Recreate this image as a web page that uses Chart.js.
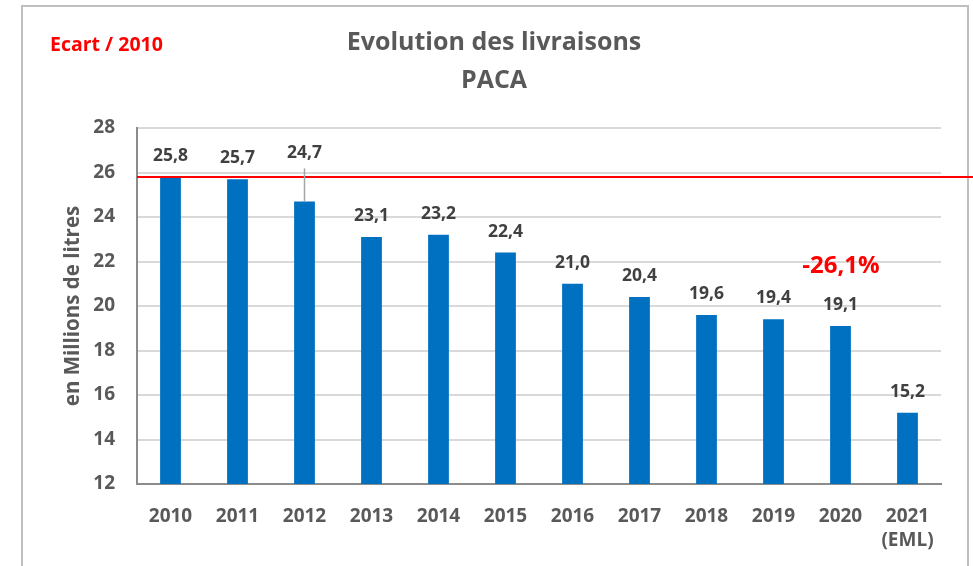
<!DOCTYPE html>
<html>
<head>
<meta charset="utf-8">
<script src="https://cdn.jsdelivr.net/npm/chart.js@4.4.0/dist/chart.umd.min.js"></script>
<style>
    html, body { margin: 0; padding: 0; background: #fff; }
    #wrap { position: relative; width: 973px; height: 566px; }
</style>
</head>
<body>
<div id="wrap"><canvas id="chart"></canvas></div>
<script>
// data
const years = ['2010', '2011', '2012', '2013', '2014', '2015', '2016', '2017', '2018', '2019', '2020', ['2021', '(EML)']];
const deliveries = [25.8, 25.7, 24.7, 23.1, 23.2, 22.4, 21.0, 20.4, 19.6, 19.4, 19.1, 15.2];
const yMin = 12;
const yMax = 28;
const yStep = 2;
const referenceValue = 25.8;   // 2010 level, red line
const gapText = '-26,1%';
const titleLines = ['Evolution des livraisons', 'PACA'];
const cornerNote = 'Ecart / 2010';
const yTitle = 'en Millions de litres';

const FONT = '"Open Sans", Lato, sans-serif';
const GREY = '#595959';

const decorPlugin = {
    id: 'decor',
    beforeDraw(chart) {
        const ctx = chart.ctx;
        ctx.save();
        // outer frame
        ctx.strokeStyle = '#bfbfbf';
        ctx.lineWidth = 2;
        ctx.strokeRect(22, 6, 946, 640);
        // titles
        ctx.fillStyle = GREY;
        ctx.font = 'bold 25px ' + FONT;
        ctx.textAlign = 'center';
        ctx.textBaseline = 'middle';
        ctx.fillText(titleLines[0], 494, 43);
        ctx.fillText(titleLines[1], 494, 81);
        // corner note
        ctx.fillStyle = '#ff0000';
        ctx.font = 'bold 19.5px ' + FONT;
        ctx.textAlign = 'left';
        ctx.fillText(cornerNote, 50, 45);
        ctx.restore();
    },
    afterDatasetsDraw(chart) {
        const ctx = chart.ctx;
        const y = chart.scales.y;
        const area = chart.chartArea;
        ctx.save();
        // reference line at 2010 level
        const ry = y.getPixelForValue(referenceValue);
        ctx.strokeStyle = '#ff0000';
        ctx.lineWidth = 2;
        ctx.beginPath();
        ctx.moveTo(area.left, ry);
        ctx.lineTo(chart.width, ry);
        ctx.stroke();

        // value labels
        const meta = chart.getDatasetMeta(0);
        ctx.font = 'bold 17.5px ' + FONT;
        ctx.fillStyle = '#404040';
        ctx.textAlign = 'center';
        ctx.textBaseline = 'middle';
        meta.data.forEach((bar, i) => {
            const text = deliveries[i].toFixed(1).replace('.', ',');
            let ly = bar.y - 21;
            if (i === 2) {
                // 2012 label was lifted above the red line, with a leader
                ly = bar.y - 48;
                ctx.strokeStyle = '#a6a6a6';
                ctx.lineWidth = 1.5;
                ctx.beginPath();
                ctx.moveTo(bar.x, ly + 15);
                ctx.lineTo(bar.x, bar.y);
                ctx.stroke();
            }
            ctx.fillText(text, bar.x, ly);
        });

        // gap annotation
        ctx.fillStyle = '#ff0000';
        ctx.font = 'bold 24px ' + FONT;
        ctx.fillText(gapText, 841, 266);
        ctx.restore();
    }
};

new Chart(document.getElementById('chart'), {
    type: 'bar',
    data: {
        labels: years,
        datasets: [{
            data: deliveries,
            backgroundColor: '#0070c0',
            borderWidth: 0,
            categoryPercentage: 1,
            barPercentage: 0.31
        }]
    },
    options: {
        responsive: true,
        maintainAspectRatio: false,
        animation: false,
        layout: {
            padding: { top: 128, left: 61, right: 32, bottom: 0 }
        },
        plugins: {
            legend: { display: false },
            tooltip: { enabled: false }
        },
        scales: {
            x: {
                afterFit(scale) { scale.height = 82; },
                grid: { display: false, drawTicks: false },
                border: { display: true, color: '#8c8c8c', width: 2 },
                ticks: {
                    color: GREY,
                    padding: 20,
                    maxRotation: 0,
                    font: { family: FONT, size: 19, weight: 'bold', lineHeight: 1.3 }
                }
            },
            y: {
                min: yMin,
                max: yMax,
                afterFit(scale) { scale.width = 76; },
                grid: { color: '#d9d9d9', lineWidth: 2, drawTicks: false },
                border: { display: true, color: '#8c8c8c', width: 2 },
                ticks: {
                    stepSize: yStep,
                    color: GREY,
                    padding: 22,
                    font: { family: FONT, size: 19, weight: 'bold' }
                },
                title: {
                    display: true,
                    text: yTitle,
                    color: GREY,
                    padding: 0,
                    font: { family: FONT, size: 20.5, weight: 'bold', lineHeight: 1.2 }
                }
            }
        }
    },
    plugins: [decorPlugin]
});
</script>
</body>
</html>
